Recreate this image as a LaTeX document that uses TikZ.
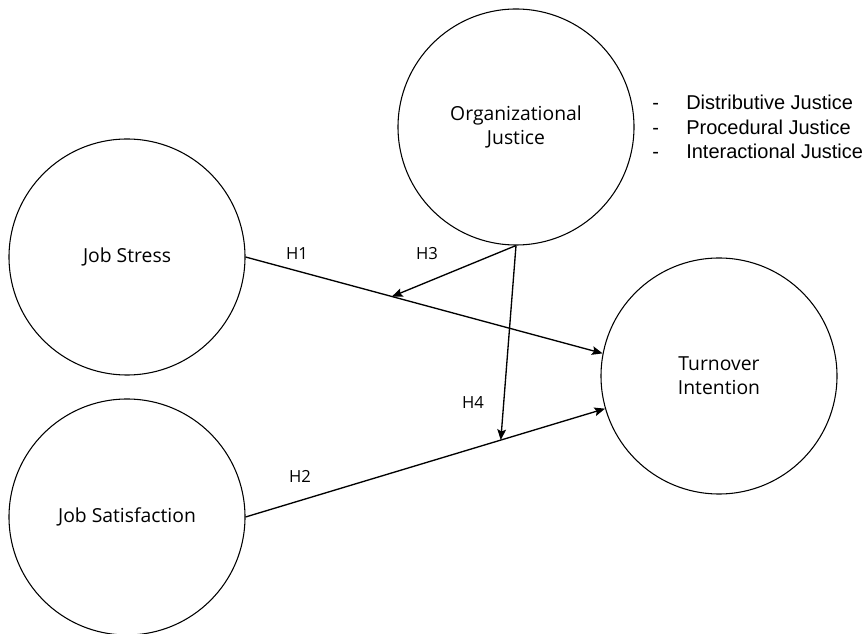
\documentclass[tikz,border=0pt]{standalone}
\usepackage{fontspec}
\setmainfont{Open Sans}
\newfontfamily\listfont{Liberation Sans}
\usetikzlibrary{arrows.meta}
\begin{document}
\begin{tikzpicture}[x=0.75pt,y=-0.75pt,
  construct/.style={circle,draw,line width=0.8pt,minimum size=177pt,inner sep=0pt,align=center,font=\fontsize{14.5}{18}\selectfont},
  path/.style={line width=1pt,-{Stealth[length=8pt,width=6.5pt,inset=1.5pt]}},
  hyp/.style={font=\fontsize{12.5}{15}\selectfont},
  item/.style={font=\listfont\fontsize{15}{18}\selectfont,anchor=base west,inner sep=0pt}]
\useasboundingbox (0,0) rectangle (868,634);
\node[construct] (OJ) at (516,127) {Organizational\\Justice};
\node[construct] (JS) at (127,257) {Job Stress};
\node[construct] (JSat) at (127,517) {Job Satisfaction};
\node[construct] (TI) at (719,376) {Turnover\\Intention};
\draw[path] (JS.0) -- (TI.169) coordinate[pos=0.41] (m1);
\draw[path] (JSat.0) -- (TI.196) coordinate[pos=0.71] (m2);
\draw[path] (OJ.270) -- (m1);
\draw[path] (OJ.270) -- (m2);
\node[hyp] (h1) at (297,254) {H1};
\node[hyp] (h3) at (427,254) {H3};
\node[hyp] (h4) at (473,403) {H4};
\node[hyp] (h2) at (300,476) {H2};
\node[item] (d1) at (652,110) {-};
\node[item] (d2) at (652,135) {-};
\node[item] (d3) at (652,159) {-};
\node[item] (t1) at (686,110) {Distributive Justice};
\node[item] (t2) at (686,135) {Procedural Justice};
\node[item] (t3) at (686,159) {Interactional Justice};
\end{tikzpicture}
\end{document}
